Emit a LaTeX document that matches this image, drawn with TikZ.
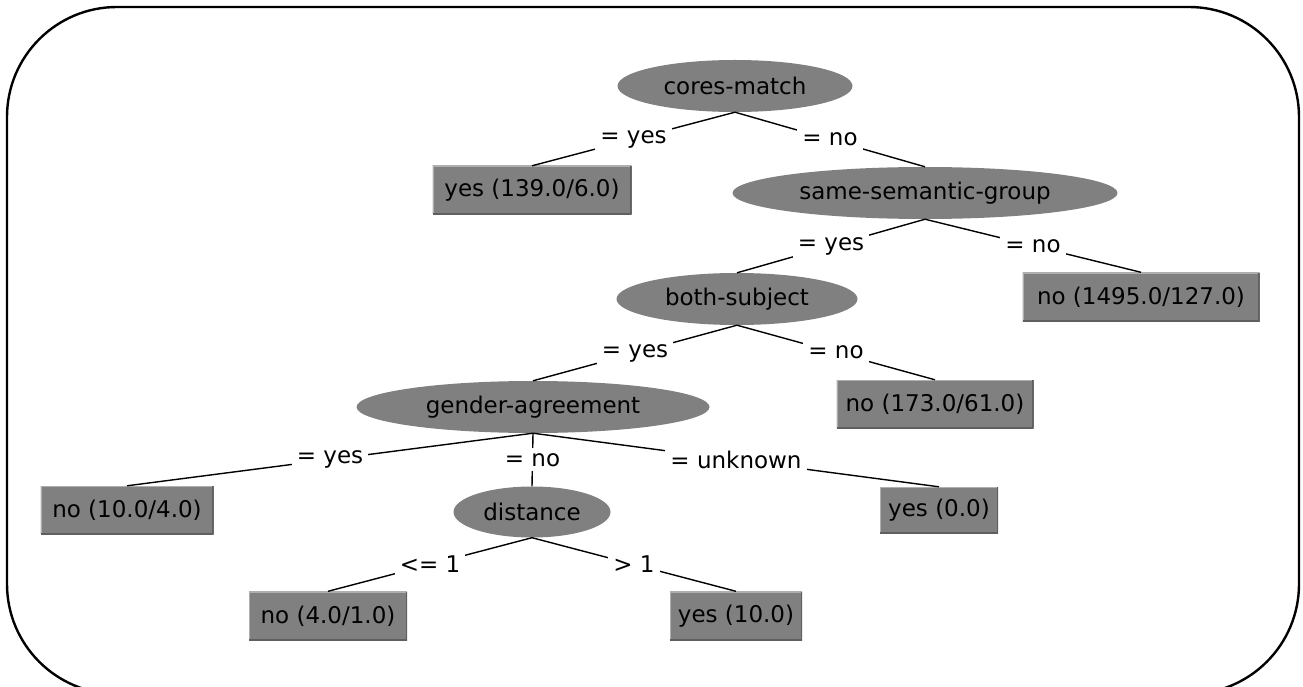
\documentclass[tikz,border=0pt]{standalone}
\usepackage{fontspec}
\setmainfont{DejaVu Sans}
\usetikzlibrary{shapes.geometric}
\definecolor{nodegray}{RGB}{128,128,128}
\definecolor{edgelight}{RGB}{175,175,175}
\definecolor{edgedark}{RGB}{95,95,95}
\begin{document}
\begin{tikzpicture}[x=1pt,y=-1pt,
  every node/.style={font=\fontsize{23}{26}\selectfont},
  test/.style={ellipse, fill=nodegray, inner sep=0pt},
  leaf/.style={rectangle, fill=nodegray, inner sep=0pt, minimum height=48pt,
    path picture={
      \draw[line width=2.4pt, edgelight] (path picture bounding box.south west) |- (path picture bounding box.north east);
      \draw[line width=2.4pt, edgedark] (path picture bounding box.south west) -| (path picture bounding box.north east);}},
  branch/.style={line width=1.4pt, black},
  lbl/.style={fill=white, inner sep=5pt}
]
\useasboundingbox (0,0) rectangle (1303,687);
% frame
\begin{scope}
\clip (0,0) rectangle (1303,687);
\draw[line width=2.4pt, rounded corners=110pt] (7,7) rectangle (1299,694);
\end{scope}

% decision nodes
\node[test, minimum width=235pt, minimum height=52pt] (cores) at (735,86) {cores-match};
\node[test, minimum width=385pt, minimum height=52pt] (ssg) at (925,193) {same-semantic-group};
\node[test, minimum width=241pt, minimum height=52pt] (both) at (737,299) {both-subject};
\node[test, minimum width=353pt, minimum height=52pt] (gender) at (533,407) {gender-agreement};
\node[test, minimum width=157pt, minimum height=51pt] (dist) at (532,512) {distance};

% leaves
\node[leaf, minimum width=199pt] (yesA) at (532,190) {yes (139.0/6.0)};
\node[leaf, minimum width=237pt, minimum height=49pt] (noA) at (1141,297) {no (1495.0/127.0)};
\node[leaf, minimum width=197pt] (noB) at (935,404) {no (173.0/61.0)};
\node[leaf, minimum width=173pt] (noC) at (127,510) {no (10.0/4.0)};
\node[leaf, minimum width=118pt, minimum height=46pt] (yesB) at (939,510) {yes (0.0)};
\node[leaf, minimum width=158pt, minimum height=49pt] (noD) at (328,616) {no (4.0/1.0)};
\node[leaf, minimum width=132pt, minimum height=49pt] (yesC) at (736,616) {yes (10.0)};

% branches
\draw[branch] (cores.south) -- node[lbl] {= yes} (yesA.north);
\draw[branch] (cores.south) -- node[lbl] {= no} (ssg.north);
\draw[branch] (ssg.south) -- node[lbl] {= yes} (both.north);
\draw[branch] (ssg.south) -- node[lbl] {= no} (noA.north);
\draw[branch] (both.south) -- node[lbl] {= yes} (gender.north);
\draw[branch] (both.south) -- node[lbl] {= no} (noB.north);
\draw[branch] (gender.south) -- node[lbl] {= yes} (noC.north);
\draw[branch] (gender.south) -- node[lbl] {= no} (dist.north);
\draw[branch] (gender.south) -- node[lbl] {= unknown} (yesB.north);
\draw[branch] (dist.south) -- node[lbl] {<= 1} (noD.north);
\draw[branch] (dist.south) -- node[lbl] {> 1} (yesC.north);
\end{tikzpicture}
\end{document}
